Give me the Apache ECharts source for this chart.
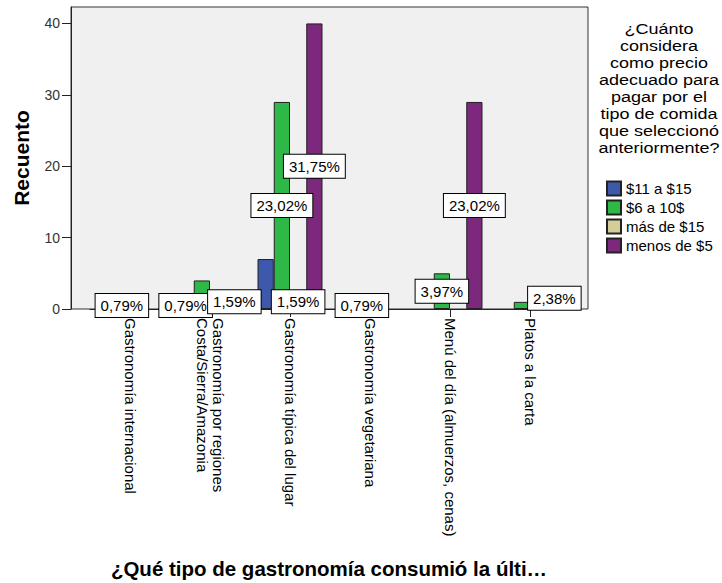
<!DOCTYPE html>
<html><head><meta charset="utf-8">
<script src="https://cdn.jsdelivr.net/npm/echarts@6/dist/echarts.min.js"></script>
<style>html,body{margin:0;padding:0;background:#fff}#c{width:722px;height:583px}</style>
</head><body><div id="c"></div>
<script>
const categories = ['Gastronomía internacional', 'Gastronomía por regiones\nCosta/Sierra/Amazonia', 'Gastronomía típica del lugar', 'Gastronomía vegetariana', 'Menú del día (almuerzos, cenas)', 'Platos a la carta'];
const seriesNames = ['$11 a $15', '$6 a 10$', 'más de $15', 'menos de $5'];
const s11a15 = [0, 1, 7, 0, 0, 0];
const s6a10 = [1, 4, 29, 1, 5, 1];
const masDe15 = [0, 0, 2, 0, 0, 0];
const menosDe5 = [0, 2, 40, 0, 29, 3];
const totalRespondents = 126;
const yTicks = [0, 10, 20, 30, 40];
const yMax = 42.3;
// bar labels that remain visible (the others are hidden by overlap in the original)
const labelShown = [
  [0, 1, 0, 0, 0, 0],
  [1, 0, 1, 1, 1, 0],
  [0, 0, 1, 0, 0, 0],
  [0, 1, 1, 0, 1, 1]
];
const legendTitle = '¿Cuánto\nconsidera\ncomo precio\nadecuado para\npagar por el\ntipo de comida\nque seleccionó\nanteriormente?';
const xTitle = '¿Qué tipo de gastronomía consumió la últi…';
const yTitle = 'Recuento';

const colors = ['#3E58AC', '#2EB848', '#D3CE97', '#7C287D'];
const values = [s11a15, s6a10, masDe15, menosDe5];
const FONT = "'Liberation Sans', Arial, sans-serif";

const chart = echarts.init(document.getElementById('c'), null, {renderer: 'svg'});
const series = values.map((arr, si) => ({
  name: seriesNames[si],
  type: 'bar',
  xAxisIndex: 1,
  yAxisIndex: 1,
  barGap: '0%',
  barCategoryGap: '18.75%',
  itemStyle: {color: colors[si], borderColor: '#222', borderWidth: 1},
  label: {
    show: false,
    position: 'inside',
    formatter: p => (p.value / totalRespondents * 100).toFixed(2).replace('.', ',') + '%',
    backgroundColor: '#fff',
    borderColor: '#000',
    borderWidth: 1,
    padding: [4, 5, 4, 5],
    fontSize: 15,
    fontFamily: FONT,
    color: '#000'
  },
  data: arr.map((v, i) => v === 0 ? '-' : {value: v, label: {show: !!labelShown[si][i]}})
}));

chart.setOption({
  animation: false,
  textStyle: {fontFamily: FONT},
  grid: [
    {left: 71, top: 7, width: 517, height: 302, show: true, backgroundColor: '#F0F0F0', borderColor: '#333', borderWidth: 1},
    {left: 90, top: 7, width: 480, height: 302}
  ],
  xAxis: [
    {gridIndex: 0, type: 'value', min: 0, max: 1, show: false},
    {gridIndex: 1, type: 'category', data: categories,
      axisLine: {show: true, lineStyle: {color: '#222'}},
      axisTick: {show: true, alignWithLabel: true, length: 8, lineStyle: {color: '#222'}},
      axisLabel: {rotate: -90, interval: 0, fontSize: 15, margin: 9, color: '#000', lineHeight: 16, fontFamily: FONT}}
  ],
  yAxis: [
    {gridIndex: 0, type: 'value', min: 0, max: yMax,
      axisLine: {show: true, lineStyle: {color: '#222'}},
      axisTick: {show: true, length: 9, customValues: yTicks, lineStyle: {color: '#222'}},
      axisLabel: {customValues: yTicks, fontSize: 14, margin: 11, color: '#333', fontFamily: FONT},
      splitLine: {show: false},
      name: yTitle, nameLocation: 'middle', nameGap: 39,
      nameTextStyle: {fontSize: 21, fontWeight: 'bold', color: '#000', fontFamily: FONT}},
    {gridIndex: 1, type: 'value', min: 0, max: yMax, show: false}
  ],
  legend: {
    orient: 'vertical', left: 601, top: 175, itemWidth: 14, itemHeight: 14, itemGap: 2, icon: 'rect',
    textStyle: {fontSize: 15, color: '#000', fontFamily: FONT, lineHeight: 17},
    data: seriesNames
  },
  graphic: [
    {type: 'text', x: 659, y: 21, scaleX: 1.2, originX: 0, originY: 0,
      style: {text: legendTitle, fontSize: 15, lineHeight: 17, fontFamily: FONT, fill: '#000', textAlign: 'center', textVerticalAlign: 'top'}},
    {type: 'text', x: 329, y: 568,
      style: {text: xTitle, fontSize: 20.5, fontWeight: 'bold', fontFamily: FONT, fill: '#000', textAlign: 'center', textVerticalAlign: 'middle'}}
  ],
  series: series
});
</script>
</body></html>
